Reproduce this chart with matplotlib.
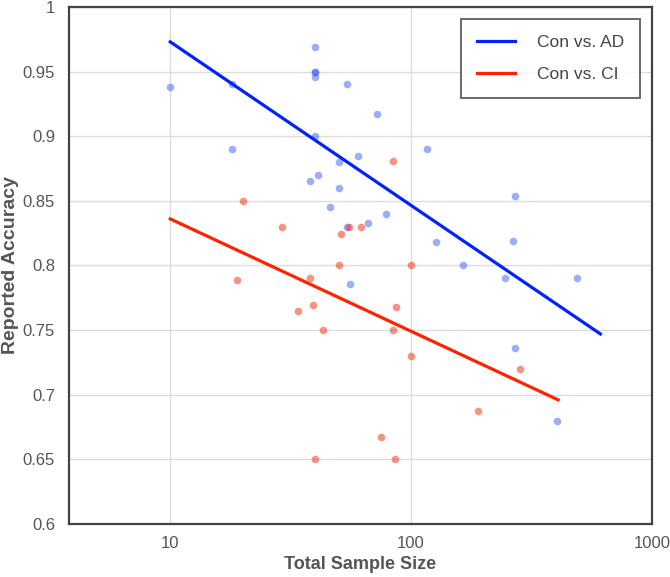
import matplotlib.pyplot as plt
from matplotlib.ticker import FixedLocator, FuncFormatter, NullLocator

# Con vs. AD studies: total sample size and reported accuracy
ad_size = [10, 18, 40, 40, 40, 40, 54, 40, 18, 60, 50, 41, 38, 50, 46, 54, 66,
           72, 116, 79, 271, 127, 266, 165, 245, 490, 56, 269, 402]
ad_acc = [0.938, 0.940, 0.969, 0.950, 0.950, 0.946, 0.940, 0.900, 0.890, 0.885,
          0.880, 0.870, 0.865, 0.860, 0.845, 0.830, 0.833, 0.917, 0.890, 0.840,
          0.854, 0.818, 0.819, 0.800, 0.790, 0.790, 0.786, 0.736, 0.680]

# Con vs. CI studies
ci_size = [20, 29, 51, 55, 62, 50, 84, 100, 19, 38, 34, 39, 43, 40, 87, 84,
           100, 282, 190, 75, 86]
ci_acc = [0.850, 0.830, 0.824, 0.830, 0.830, 0.800, 0.881, 0.800, 0.789, 0.790,
          0.765, 0.769, 0.750, 0.650, 0.768, 0.750, 0.730, 0.720, 0.687, 0.667,
          0.650]

# fitted trend lines (end points)
ad_fit_x = [10, 611]
ad_fit_y = [0.973, 0.747]
ci_fit_x = [10, 408]
ci_fit_y = [0.836, 0.696]

y_ticks = [0.6, 0.65, 0.7, 0.75, 0.8, 0.85, 0.9, 0.95, 1.0]
x_ticks = [10, 100, 1000]

plt.rcParams["font.family"] = ["Liberation Sans", "DejaVu Sans"]

fig = plt.figure(figsize=(6.7, 5.77), dpi=100)
ax = fig.add_axes([0.103, 0.092, 0.870, 0.896])

ax.scatter(ad_size, ad_acc, s=30, color="#3a5cf5", alpha=0.5, linewidths=0, zorder=3)
ax.scatter(ci_size, ci_acc, s=30, color="#f03a1e", alpha=0.55, linewidths=0, zorder=3)

ax.plot(ad_fit_x, ad_fit_y, color="#0022ff", linewidth=2.3, label="Con vs. AD", zorder=4)
ax.plot(ci_fit_x, ci_fit_y, color="#ff2200", linewidth=2.3, label="Con vs. CI", zorder=4)

ax.set_xscale("log")
ax.set_xlim(3.8, 1000)
ax.set_ylim(0.6, 1.0)
ax.xaxis.set_major_locator(FixedLocator(x_ticks))
ax.xaxis.set_minor_locator(NullLocator())
ax.xaxis.set_major_formatter(FuncFormatter(lambda v, _: f"{v:g}"))
ax.set_yticks(y_ticks)
ax.yaxis.set_major_formatter(FuncFormatter(lambda v, _: f"{v:g}"))

ax.grid(True, color="#dddddd", linewidth=1.0, zorder=0)
ax.set_axisbelow(True)
ax.tick_params(length=0, labelsize=12, colors="#555555")
ax.tick_params(axis="y", pad=10)
ax.tick_params(axis="x", pad=9)
for spine in ax.spines.values():
    spine.set_color("#444444")
    spine.set_linewidth(1.6)

ax.set_xlabel("Total Sample Size", fontsize=13, fontweight="bold", color="#555555", va="center")
ax.set_ylabel("Reported Accuracy", fontsize=14, fontweight="bold", color="#555555", va="center")
ax.xaxis.set_label_coords(0.5, -0.079)
ax.yaxis.set_label_coords(-0.1, 0.5)

leg = ax.legend(loc="upper right", bbox_to_anchor=(0.98, 0.977), fontsize=12.5,
                frameon=True, fancybox=False, handlelength=2.2, handletextpad=1.3,
                borderpad=0.9, labelspacing=1.0, borderaxespad=0)
leg.get_frame().set_edgecolor("#444444")
leg.get_frame().set_linewidth(1.4)
for text in leg.get_texts():
    text.set_color("#444444")

fig.savefig("out.png", dpi=100)
